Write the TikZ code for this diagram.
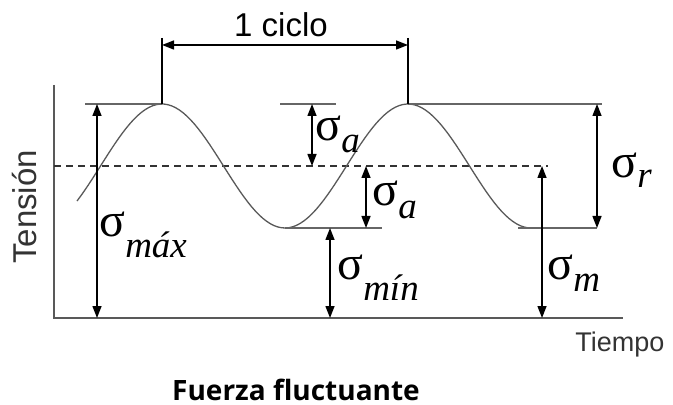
\documentclass[tikz,border=0pt]{standalone}
\usepackage{fontspec}
\setmainfont{Liberation Sans}
\newfontfamily\grkfont{Liberation Serif}
\newfontfamily\capfont{Open Sans}
\usetikzlibrary{arrows.meta,positioning}

% sigma with a lowered italic subscript: \sgsub{drop}{text}
\newcommand{\sgsub}[2]{{\fontsize{24}{24}\selectfont σ}\raisebox{-#1}{\fontsize{18.5}{18.5}\selectfont\itshape #2}}

\begin{document}
\begin{tikzpicture}[x=0.5pt, y=-0.5pt,
    axis/.style={draw=black!65, line width=1.1pt},
    lvl/.style={draw=black!60, line width=1pt},
    ext/.style={draw=black, line width=0.7pt},
    meanln/.style={draw=black!80, line width=0.7pt, dash pattern=on 3.5pt off 2.5pt},
    wave/.style={draw=black!65, line width=0.65pt},
    arr/.style={{Triangle[length=6pt,width=4.5pt]}-{Triangle[length=6pt,width=4.5pt]}, line width=0.7pt},
    sig/.style={anchor=base west, inner sep=0pt, font=\grkfont},
    lab/.style={inner sep=0pt, text=black!80}
  ]
  \useasboundingbox (0,0) rectangle (673,405);

  % axes
  \coordinate (ytop) at (54,85);
  \coordinate (o) at (54,318);
  \coordinate (xend) at (623,318);
  \draw[axis] (ytop) -- (o) -- (xend);

  % mean line
  \coordinate (mL) at (54,166);
  \coordinate (mR) at (548,166);
  \draw[meanln] (mL) -- (mR);

  % fluctuating stress (period 246)
  \draw[wave] plot[domain=77:528, samples=120] (\x, {166 - 62*cos((\x-162)*1.46341)});

  % levels
  \coordinate (pk1) at (162,104);
  \coordinate (pk2) at (408,104);
  \coordinate (tr1) at (285,228);
  \coordinate (tr2) at (518,228);
  \draw[lvl] (85,104) -- (pk1);
  \draw[lvl] (280,104) -- (336,104);
  \draw[lvl] (pk2) -- (602,104);
  \draw[lvl] (tr1) -- (382,228);
  \draw[lvl] (tr2) -- (597,228);

  % one cycle
  \coordinate (c1) at (162,38);
  \coordinate (c2) at (408,38);
  \draw[ext] (c1) -- (pk1);
  \draw[ext] (c2) -- (pk2);
  \coordinate (d1) at (162,45);
  \coordinate (d2) at (408,45);
  \draw[arr] (d1) -- (d2);
  \node[lab, anchor=base, font=\fontsize{16.5}{16.5}\selectfont, text=black] (cyc) at (281,37) {1 ciclo};

  % stress arrows
  \coordinate (smaxT) at (97,104);   \coordinate (smaxB) at (97,318);
  \coordinate (sa1T) at (312,104);   \coordinate (sa1B) at (312,166);
  \coordinate (sa2T) at (366,166);   \coordinate (sa2B) at (366,228);
  \coordinate (sminT) at (330,228);  \coordinate (sminB) at (330,318);
  \coordinate (smT) at (542,166);    \coordinate (smB) at (542,318);
  \coordinate (srT) at (597,104);    \coordinate (srB) at (597,228);
  \draw[arr] (smaxT) -- (smaxB);
  \draw[arr] (sa1T) -- (sa1B);
  \draw[arr] (sa2T) -- (sa2B);
  \draw[arr] (sminT) -- (sminB);
  \draw[arr] (smT) -- (smB);
  \draw[arr] (srT) -- (srB);

  % labels
  \node[sig] (smax) at (99,237) {\sgsub{10pt}{máx}};
  \node[sig] (sa1) at (315,141) {\sgsub{6pt}{a}};
  \node[sig] (sa2) at (372,206) {\sgsub{6pt}{a}};
  \node[sig] (smin) at (337,279) {\sgsub{10.5pt}{mín}};
  \node[sig] (sm) at (547,279) {\sgsub{6pt}{m}};
  \node[sig] (sr) at (611,178) {\sgsub{5pt}{r}};

  \node[lab, rotate=90, font=\fontsize{16.5}{16.5}\selectfont] (ylab) at (25,207) {Tensión};
  \node[lab, anchor=base west, font=\fontsize{13.5}{13.5}\selectfont] (xlab) at (575,351) {Tiempo};
  \node[lab, anchor=base, font=\capfont\bfseries\fontsize{14}{14}\selectfont, text=black] (title) at (296,400) {Fuerza fluctuante};
\end{tikzpicture}
\end{document}
